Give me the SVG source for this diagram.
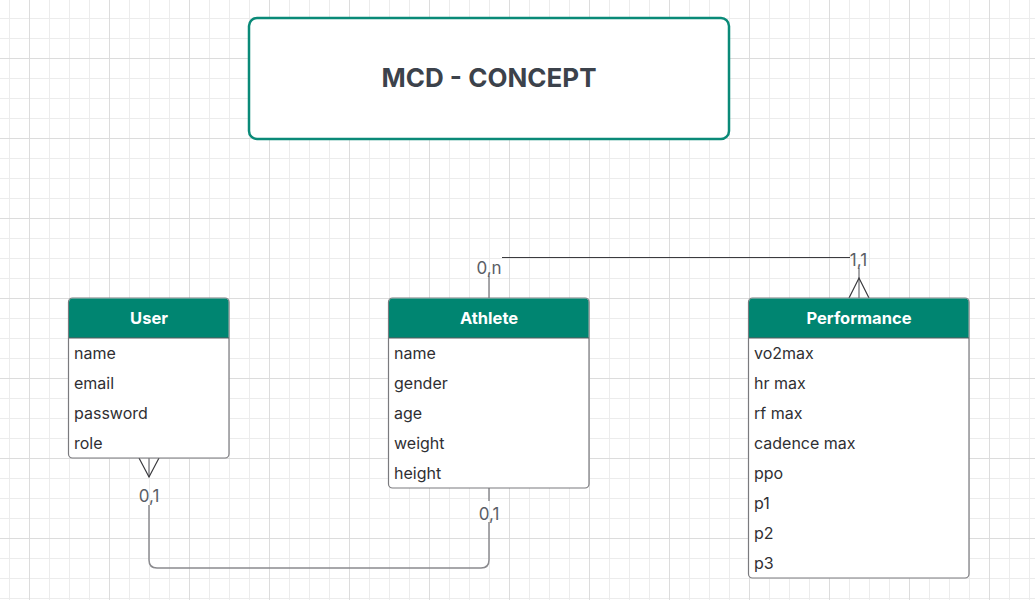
<svg xmlns="http://www.w3.org/2000/svg" width="1035" height="600" viewBox="0 0 1035 600">
<defs>
<pattern id="minor" patternUnits="userSpaceOnUse" x="9" y="18" width="20" height="20"><rect x="0" y="0" width="1" height="20" fill="#ececec"/><rect x="0" y="0" width="20" height="1" fill="#ececec"/></pattern>
<pattern id="major" patternUnits="userSpaceOnUse" x="29" y="58" width="80" height="80"><rect x="0" y="0" width="1" height="80" fill="#dcdcdc"/><rect x="0" y="0" width="80" height="1" fill="#dcdcdc"/></pattern>
</defs>
<style>
text{font-family:Inter,"Liberation Sans",sans-serif}
.card{fill:#fff;stroke:#7a7a7e;stroke-width:1.2}
.head{fill:#008571}
.ht{fill:#fff;font-size:16.5px;font-weight:700;text-anchor:middle}
.row{fill:#2f2f33;font-size:16px}
.lbl{fill:#5a5e66;font-size:17px;text-anchor:middle}
.c{fill:none;stroke:#8a8a8e;stroke-width:1.5}
.cd{fill:none;stroke:#3a3a3e;stroke-width:1.2}
</style>
<rect width="1035" height="600" fill="#fff"/>
<rect width="1035" height="600" fill="url(#minor)"/>
<rect width="1035" height="600" fill="url(#major)"/>

<g id="title">
<rect x="249" y="18" width="480" height="121" rx="8" fill="#fff" stroke="#0a8a78" stroke-width="2.5"/>
<text x="489" y="87" text-anchor="middle" font-size="26" font-weight="700" fill="#3c424b">MCD - CONCEPT</text>
</g>

<g id="connectors">
<path class="c" d="M489 298V276"/>
<path class="cd" d="M502 257.5H850"/>
<path class="c" d="M859 268V298"/>
<path class="cd" d="M849 298L859 278L869 298"/>
<text class="lbl" x="489" y="274">0,n</text>
<text class="lbl" x="858.5" y="266">1,1</text>

<path class="c" d="M149 458V477"/>
<path class="cd" d="M139 458L149 477L159 458"/>
<path class="c" d="M149 505V560Q149 568 157 568H481Q489 568 489 560V522"/>
<path class="c" d="M489 488V501"/>
<text class="lbl" x="149" y="502">0,1</text>
<text class="lbl" x="489" y="520">0,1</text>
</g>

<g id="user">
<rect class="card" x="68.5" y="298" width="160.5" height="160" rx="4"/>
<path class="head" d="M72.5 298.5H225Q228.5 298.5 228.5 302.5V338H69V302.5Q69 298.5 72.5 298.5Z"/>
<line x1="69" y1="338" x2="229" y2="338" stroke="#5a5a5e" stroke-width="1"/>
<text class="ht" x="149" y="324">User</text>
<text class="row" x="74" y="359">name</text>
<text class="row" x="74" y="389">email</text>
<text class="row" x="74" y="419">password</text>
<text class="row" x="74" y="449">role</text>
</g>

<g id="athlete">
<rect class="card" x="388.5" y="298" width="200.5" height="190" rx="4"/>
<path class="head" d="M392.5 298.5H585Q588.5 298.5 588.5 302.5V338H389V302.5Q389 298.5 392.5 298.5Z"/>
<line x1="389" y1="338" x2="589" y2="338" stroke="#5a5a5e" stroke-width="1"/>
<text class="ht" x="489" y="324">Athlete</text>
<text class="row" x="394" y="359">name</text>
<text class="row" x="394" y="389">gender</text>
<text class="row" x="394" y="419">age</text>
<text class="row" x="394" y="449">weight</text>
<text class="row" x="394" y="479">height</text>
</g>

<g id="performance">
<rect class="card" x="748.5" y="298" width="220.5" height="280" rx="4"/>
<path class="head" d="M752.5 298.5H965Q968.5 298.5 968.5 302.5V338H749V302.5Q749 298.5 752.5 298.5Z"/>
<line x1="749" y1="338" x2="969" y2="338" stroke="#5a5a5e" stroke-width="1"/>
<text class="ht" x="859" y="324">Performance</text>
<text class="row" x="754" y="359">vo2max</text>
<text class="row" x="754" y="389">hr max</text>
<text class="row" x="754" y="419">rf max</text>
<text class="row" x="754" y="449">cadence max</text>
<text class="row" x="754" y="479">ppo</text>
<text class="row" x="754" y="509">p1</text>
<text class="row" x="754" y="539">p2</text>
<text class="row" x="754" y="569">p3</text>
</g>
</svg>
